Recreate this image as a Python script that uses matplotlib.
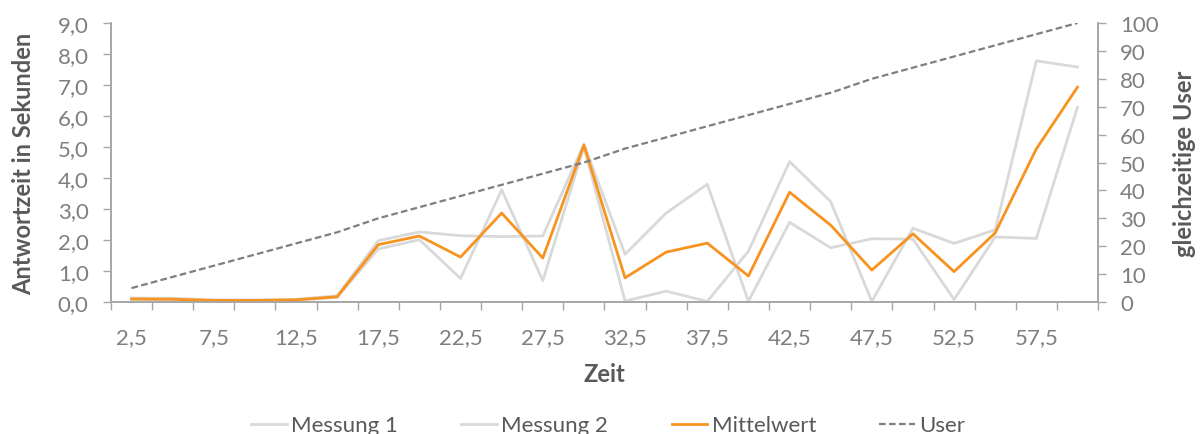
import matplotlib
matplotlib.use("Agg")
import matplotlib.pyplot as plt
from matplotlib.lines import Line2D

plt.rcParams['font.family'] = ['Lato', 'DejaVu Sans']

zeit = [2.5, 5, 7.5, 10, 12.5, 15, 17.5, 20, 22.5, 25, 27.5, 30,
        32.5, 35, 37.5, 40, 42.5, 45, 47.5, 50, 52.5, 55, 57.5, 60]
messung1 = [0.13, 0.12, 0.07, 0.07, 0.09, 0.20, 1.98, 2.26, 2.14, 2.11, 2.13, 5.10,
            1.54, 2.87, 3.80, 0.02, 2.57, 1.75, 2.04, 2.03, 0.08, 2.10, 2.05, 6.28]
messung2 = [0.08, 0.07, 0.04, 0.04, 0.06, 0.15, 1.71, 2.01, 0.76, 3.62, 0.69, 5.00,
            0.03, 0.35, 0.02, 1.64, 4.53, 3.24, 0.02, 2.38, 1.89, 2.33, 7.78, 7.58]
mittelwert = [0.10, 0.09, 0.05, 0.05, 0.07, 0.17, 1.85, 2.13, 1.45, 2.87, 1.42, 5.06,
              0.78, 1.61, 1.90, 0.84, 3.54, 2.48, 1.03, 2.20, 0.98, 2.23, 4.94, 6.93]
user = [5, 9, 13, 17, 21, 25, 30, 34, 38, 42, 46, 50,
        55, 59, 63, 67, 71, 75, 80, 84, 88, 92, 96, 100]

left_ticks = [0, 1, 2, 3, 4, 5, 6, 7, 8, 9]
right_ticks = [0, 10, 20, 30, 40, 50, 60, 70, 80, 90, 100]

tick_color = '#7F7F7F'
spine_color = '#A6A6A6'
title_color = '#595959'
gray_line = '#D9D9D9'
orange = '#F7931E'
user_color = '#7F7F7F'
user_dash = (0, (3, 1.5))

fig = plt.figure(figsize=(12.02, 4.35), dpi=100)
ax = fig.add_axes([0.0923, 0.3034, 0.8212, 0.6414])
ax2 = ax.twinx()

pos = list(range(len(zeit)))
ax.plot(pos, messung1, color=gray_line, lw=2.0, zorder=2)
ax.plot(pos, messung2, color=gray_line, lw=2.0, zorder=2)
ax.plot(pos, mittelwert, color=orange, lw=2.0, zorder=3)
ax2.plot(pos, user, color=user_color, lw=1.6, ls=user_dash)

ax.set_xlim(-0.5, len(zeit) - 0.5)
ax.set_ylim(0, 9)
ax2.set_ylim(0, 100)

ax.set_yticks(left_ticks)
ax.set_yticklabels([f"{v:.1f}".replace('.', ',') for v in left_ticks])
ax2.set_yticks(right_ticks)
ax2.set_yticklabels([str(v) for v in right_ticks])

# category boundary ticks (major), labels on every other category (minor)
ax.set_xticks([p - 0.5 for p in pos] + [len(zeit) - 0.5])
ax.set_xticklabels([])
lab_pos = pos[::2]
ax.set_xticks(lab_pos, minor=True)
ax.set_xticklabels([f"{zeit[p]:g}".replace('.', ',') for p in lab_pos], minor=True)
ax.tick_params(axis='x', which='major', length=6, width=1, color=spine_color)
ax.tick_params(axis='x', which='minor', length=0, pad=18, labelsize=16, labelcolor=tick_color)
ax.tick_params(axis='y', length=6, width=1, color=spine_color, pad=10,
               labelsize=16, labelcolor=tick_color)
ax2.tick_params(axis='y', length=6, width=1, color=spine_color, pad=10,
                labelsize=16, labelcolor=tick_color)

for a in (ax, ax2):
    a.spines['top'].set_visible(False)
    for s in ('left', 'right', 'bottom'):
        a.spines[s].set_color(spine_color)
        a.spines[s].set_linewidth(1.2)
    a.grid(False)

ax.set_ylabel('Antwortzeit in Sekunden', fontsize=17, fontweight='bold', color=title_color)
ax2.set_ylabel('gleichzeitige User', fontsize=17, fontweight='bold', color=title_color)
ax.set_xlabel('Zeit', fontsize=17, fontweight='bold', color=title_color)
ax.yaxis.label.set_va('center')
ax2.yaxis.label.set_va('center')
ax.xaxis.label.set_va('center')
ax.yaxis.set_label_coords(-0.088, 0.5)
ax2.yaxis.set_label_coords(1.088, 0.5)
ax.xaxis.set_label_coords(0.5, -0.255)

handles = [
    Line2D([], [], color=gray_line, lw=2.0),
    Line2D([], [], color=gray_line, lw=2.0),
    Line2D([], [], color=orange, lw=2.0),
    Line2D([], [], color=user_color, lw=1.6, ls=user_dash),
]
labels = ['Messung 1', 'Messung 2', 'Mittelwert', 'User']
fig.legend(handles, labels, loc='center', bbox_to_anchor=(0.506, 0.02), ncol=4,
           frameon=False, fontsize=16, labelcolor=title_color, handlelength=1.6,
           handletextpad=0.2, columnspacing=2.85, borderpad=0)

fig.savefig('out.png', dpi=100)
